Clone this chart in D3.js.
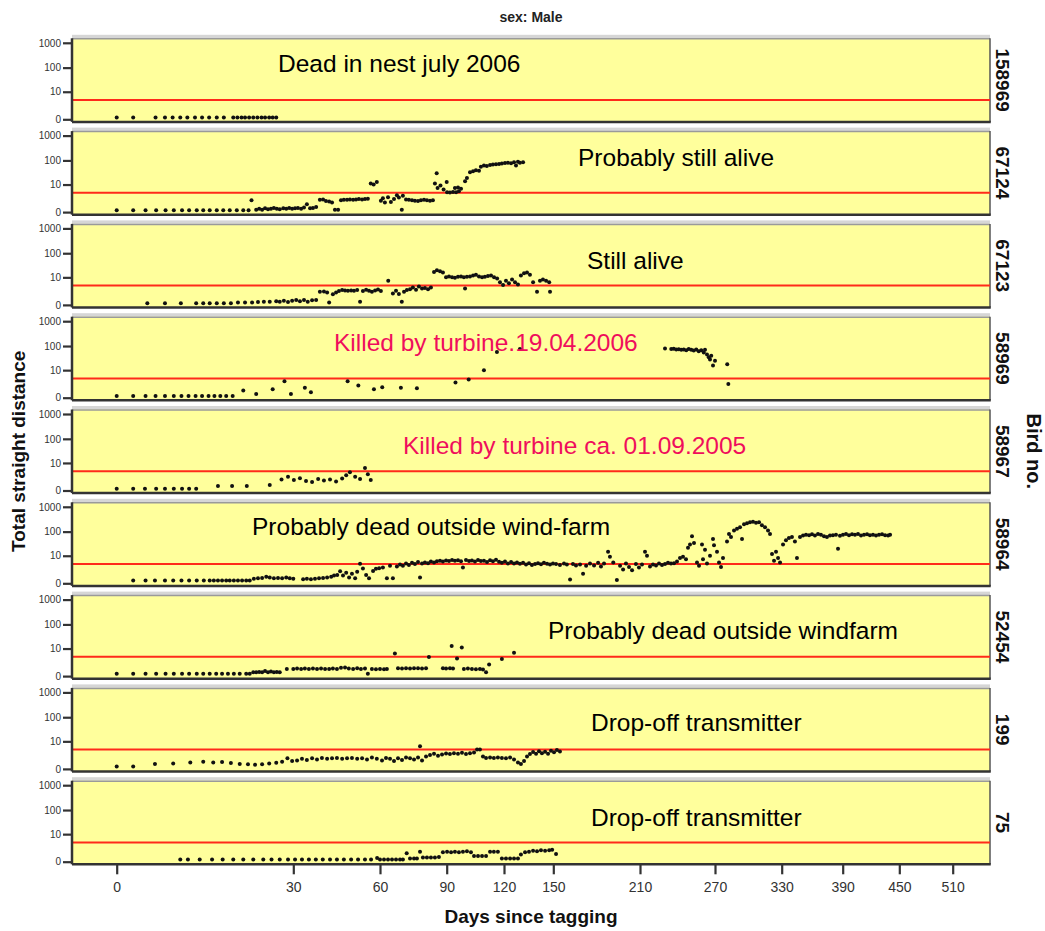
<!DOCTYPE html>
<html><head><meta charset="utf-8">
<script src="https://cdn.jsdelivr.net/npm/d3@7"></script>
<style>body{margin:0;background:#fff}svg{display:block}</style>
</head><body><svg id="c" width="1045" height="931"></svg>
<script>
// ---------------- DATA ----------------
const birds = ["158969","67124","67123","58969","58967","58964","52454","199","75"];
const notes = ["Dead in nest july 2006","Probably still alive","Still alive","Killed by turbine.19.04.2006",
  "Killed by turbine ca. 01.09.2005","Probably dead outside wind-farm","Probably dead outside windfarm",
  "Drop-off transmitter","Drop-off transmitter"];
const noteKilled = [false,false,false,true,true,false,false,false,false];
const xTicks = [0,30,60,90,120,150,210,270,330,390,450,510];
const yTicks = [0,10,100,1000];
const threshold = 4.2;

const b158969 = [[0,0.15],[2.8,0.15],[6.6,0.15],[8.2,0.15],[9.5,0.15],[10.8,0.15],[12,0.15],[13.3,0.15],[14.5,0.15],[15.7,0.15],[17,0.15],[18.2,0.15],[19.8,0.15],[20.5,0.15],[21.2,0.15],[21.8,0.15],[22.5,0.15],[23.2,0.15],[23.9,0.15],[24.6,0.15],[25.2,0.15],[25.9,0.15],[26.5,0.15],[27.1,0.15]];

const b67124 = [[0,0.15],[2.8,0.15],[4.9,0.15],[6.7,0.15],[8.3,0.15],[9.7,0.15],[11.1,0.15],[12.3,0.15],[13.6,0.15],[14.7,0.15],[15.8,0.15],[17,0.15],[18.1,0.15],[19.2,0.15],[20.4,0.15],[21.5,0.15],[22.4,0.15],
[22.9,1.7],[23.7,0.2],[24.2,0.3],[24.7,0.2],[25.2,0.35],[25.7,0.25],[26.2,0.3],[26.7,0.4],[27.2,0.3],[27.7,0.25],[28.3,0.35],[28.8,0.3],[29.3,0.4],[29.8,0.3],[30.6,0.35],[31.6,0.4],[32.7,0.3],[33.7,0.45],[34.7,0.9],[35.8,0.35],[36.8,0.4],[37.9,0.5],
[39.2,1.8],[40.3,1.9],[41.3,1.5],[42.4,1.4],[43.4,1.2],[44.4,0.2],[45.5,0.2],
[46.5,1.7],[47.5,1.8],[48.6,1.8],[49.6,1.9],[50.7,1.8],[51.7,1.9],[52.7,2.0],[53.8,1.9],[54.8,2.0],[55.8,2.1],
[56.8,11],[57.8,10],[58.9,13],
[60.4,1.6],[61.3,2.2],[62.2,1.2],[63.6,2.5],[64.9,1.3],[66.3,2.0],[67.6,3.2],[68.5,2.4],[69.8,0.2],[70.3,3],
[71.7,1.9],[73,1.8],[74.4,1.7],[75.7,1.6],[77.1,1.5],[78.4,1.7],[79.8,1.8],[81.1,1.7],[82.5,1.6],[83.8,1.7],
[84.7,11],[85.5,30],[85.9,7],[87.2,9],[88.6,6],[90,13],
[90.2,4.5],[91.7,4.4],[93.3,4.6],[94.9,4.5],[96.4,5],[94.3,7],[95.9,7.5],[97.5,6.5],
[99.6,14],[100.6,19],[102.2,33],[103.8,36],[105.3,40],[106.9,38],
[107.9,55],[109.5,62],[111,60],[112.7,65],[114.2,68],[115.8,70],[117.4,72],[118.9,75],[120.6,78],[122.4,80],[124.3,76],[126.1,84],[127.3,62],[128.5,88],[129.7,80],[131.6,85]];

const b67123 = [[5.2,0.15],[8.2,0.15],[10.9,0.15],[13.5,0.15],[14.7,0.15],[15.8,0.15],[17,0.15],[18.2,0.15],[19.4,0.15],[20.6,0.2],[21.8,0.2],[23,0.2],[24,0.25],[25,0.3],[26,0.3],[27.1,0.35],
[27.7,0.3],[28.4,0.4],[29.1,0.25],[29.8,0.4],[31,0.5],[32.3,0.35],[33.7,0.5],[35,0.3],[36.5,0.45],[37.9,0.5],
[39.2,2],[40.6,2.1],[41.7,1.8],[42.4,0.2],
[43.7,1.4],[44.8,1.8],[45.8,2.2],[46.9,2.5],[47.9,2.4],[48.9,2.3],[50,2.4],[51,2.3],[52.1,2.5],[53.1,0.3],[54.1,2.2],[55.2,2.6],[56.2,2.3],[57.2,2.0],[58.3,2.4],[59.3,2.7],[60.4,2.2],
[63.7,7],[65.8,1.6],[67.2,2.3],[68.5,1.5],[69.8,0.3],[70.8,2.0],[72.1,2.5],
[73.5,2.8],[74.8,3.4],[76.2,2.6],[77.5,3.8],[78.9,3.0],[80.2,3.2],[81.6,2.8],[82.9,3.4],
[84.3,17],[85.6,20],[87,18],[88.3,16],
[89.7,10],[91.2,11],[92.8,10],[94.3,9.5],[95.9,10.5],[97.5,11],[99.6,3],[99,10],[100.6,10.5],[102.2,11],[103.8,12],[105.3,13],[106.9,11],[108.5,10],[110,10.5],[111.6,11.5],[113.2,12],[114.8,10],[116.4,9],
[117.9,6],[119.5,4.5],[121.2,7],[123,5.5],[124.9,8],[126.7,6],[128.5,4.8],
[130.3,12],[132.2,15],[134,16],[135.8,13],
[137.7,6],[140.1,2],[141.9,7],[143.7,8],[145.6,7],[147.5,6],[148,2]];

const b58969 = [[0,0.15],[2.8,0.15],[4.9,0.15],[6.6,0.15],[8.2,0.15],[9.7,0.15],[11,0.15],[12.2,0.15],[13.4,0.15],[14.5,0.15],[15.6,0.15],[16.6,0.15],[17.6,0.15],[18.6,0.15],[19.7,0.15],
[21.5,0.8],[23.7,0.35],[26.5,1.0],[28.5,3],[29.6,0.35],[34,1.3],[36.1,0.55],[48.8,3],[52.5,1.75],[57.9,1.0],[61,1.4],[69.4,1.3],[76.6,1.2],[94.6,2.6],[101.5,3.7],[109.5,10],[116.3,57],[129.7,76],
[230,80],[235,75],[237,78],[239,72],[241,74],[243,70],[245,72],[247,68],[249,75],[251,70],[253,66],[255,72],[257,62],[259,68],[261,55],[262,70],[263.6,45],[265,35],[266,28],[267,40],[268.4,16],[270,25],[281,18],[282,2.2]];

const b58967 = [[0,0.15],[2.8,0.15],[4.8,0.15],[6.7,0.15],[8.2,0.15],[9.7,0.15],[11.1,0.15],[12.3,0.15],[13.5,0.15],[17.2,0.45],[19.6,0.45],[22.1,0.45],[26,0.55],[28,1.5],[29.1,2.2],[30.2,1.4],[32.3,1.8],[34.4,1.2],[36.5,1.0],[38.6,1.6],[40.6,1.3],[42.7,1.5],[44.8,1.1],[46.9,1.7],[48.3,2.6],[49.6,3.7],[51.4,2.2],[53.1,1.6],[54.8,6],[55.8,3.0],[56.8,1.4]];

const b58964 = [[2.8,0.25],[4.9,0.25],[6.5,0.25],[8.2,0.25],[9.6,0.25],[11,0.25],[12.3,0.25],[13.6,0.25],[14.8,0.25],[15.8,0.25],[16.5,0.25],[17.2,0.25],[17.9,0.25],[18.6,0.25],[19.2,0.25],[19.9,0.25],[20.6,0.25],[21.3,0.25],[22,0.25],[22.6,0.25],
[23.3,0.45],[24,0.5],[24.7,0.55],[25.4,0.7],[26,0.6],[26.7,0.5],[27.4,0.55],[28.1,0.5],[28.8,0.6],[29.4,0.5],[30,0.45],
[33.4,0.4],[34.7,0.45],[36.1,0.4],[37.5,0.45],[38.9,0.5],[40.3,0.55],[41.7,0.6],[43.1,0.7],[44.1,0.9],[45.2,1.0],
[46.2,1.75],[47.2,0.9],[48.3,1.4],[49.3,0.6],[50.3,1.2],[51.4,0.5],[52.1,1.6],
[53.1,4.3],[54.1,2.5],[55.2,1.0],[56.2,0.5],[57.6,1.8],[58.6,2.4],[59.7,2.6],[61.3,2.8],[63.1,0.5],[64.5,3.5],[65.8,0.5],
[67.6,3.2],[69,4],[70.3,3.5],[71.7,4.5],[73,3.8],[74.4,4.8],[75.7,4.2],[77.1,5.2],[78,0.6],[78.9,4.5],[80.2,5],[81.6,4.6],[82.9,5.5],[84.3,5],[85.6,5.7],
[87,6],[88.3,5.5],[89.7,6.2],[91.2,5.8],[92.8,6.5],[94.3,6],[95.9,6.3],[97.5,5.6],[98.5,2.8],[100.1,6.4],[101.7,5.9],[103.2,6.2],[104.8,5.5],[106.4,6.5],[107.9,5.8],[109.5,6],[111.1,5.3],[112.7,6.3],[114.2,5.6],[115.8,6.6],[117.4,5.4],[118.9,4.8],[120.6,5.5],[122.4,4.5],[124.3,5.2],[126.1,4.4],[127.9,5],[129.7,4.3],[131.6,4.8],[133.4,4.0],[135.2,4.6],[137,3.8],[138.9,4.2],[140.7,4.6],[142.5,4.1],[144.3,4.8],[146.2,4.3],[148,4.0],[149.8,4.4],
[151.9,4.2],[154.6,3.8],[157.4,4.5],[159.4,4.0],[161.6,0.35],[163.6,4.2],[165.7,3.6],[168.5,4.0],[170.6,1.2],[172.7,3.5],[175.4,4.4],[178.2,3.6],[181,4.8],[183,3.2],[185.1,4.5],[187.9,15],[189.2,9],[191.5,5],[194,0.3],[196.2,3.5],[198.3,2.2],[200.3,4.5],[202.4,3.0],[204.5,2.0],[207.2,4.2],[209.3,2.8],[211.6,4.0],[214,15],[215.6,10],[218,3.2],[220.4,4.0],[222.8,3.6],[225.2,4.5],[227.6,3.8],[230,4.2],[232.4,4.8],[234.8,4.4],[237.2,4.6],[239.6,5.5],[242,8],[244.4,9],[246.8,7],[248.4,22],[250,30],[251.6,65],[253.2,34],[255.6,5],[257.2,3.5],[259.6,30],[260.4,7],[262,18],[263.6,4.5],[266,10],[268.4,50],[269.2,28],[271.8,15],[273.6,5],[275.4,3],[277.2,8],
[280.8,40],[282.6,80],[284.4,60],[287.1,110],[289.8,130],[292.5,150],[294.3,50],[296.1,200],[298.8,220],[301.5,240],[304.2,250],[306.9,230],[309.6,240],[312.2,180],[315,150],[317.7,110],[319.5,80],[321.3,12],[323.1,6],[324.9,15],[326.7,8],[328.5,5],
[331.3,30],[334.2,45],[337.1,55],[340.1,60],[343,40],[345,8],[348,60],[351,70],[353.9,75],[356.9,72],[359.8,78],[362.7,70],[365.7,80],[368.6,75],[371.6,65],[374.5,60],[377.5,70],[380.4,72],[383.4,75],[385.4,20],[387.3,68],[390.3,75],[393.5,80],[396.7,72],[399.9,78],[403,75],[406.2,80],[409.4,70],[412.6,75],[415.8,78],[418.9,72],[422.1,75],[425.3,70],[428.5,74],[431.7,78],[434.9,72],[438.1,70],[440.2,74]];

const b52454 = [[0,0.2],[2.8,0.2],[4.9,0.2],[6.7,0.2],[8.3,0.2],[9.7,0.2],[11.1,0.2],[12.3,0.2],[13.6,0.2],[14.7,0.2],[15.8,0.2],[16.9,0.2],[17.9,0.2],[18.9,0.2],[19.9,0.2],[20.9,0.2],[22,0.2],[22.6,0.2],
[23.2,0.35],[23.7,0.35],[24.2,0.4],[24.7,0.35],[25.2,0.5],[25.7,0.35],[26.2,0.45],[26.7,0.35],[27.2,0.4],[27.7,0.35],[28.9,0.8],
[30,0.8],[31.3,0.85],[32.7,0.8],[34,0.85],[35.4,0.8],[36.8,0.85],[38.2,0.8],[39.6,0.85],[41,0.8],[42.4,0.8],[43.7,0.85],[45.1,0.8],[46.5,1.0],[47.9,1.05],[49.2,0.85],[50.7,0.8],[52.1,0.9],[53.4,0.8],[54.8,0.85],[55.8,0.2],[57.2,0.8],[58.6,0.75],[60,0.8],[61.8,0.75],[63.1,0.8],
[66.7,6],[68.1,0.9],[69.9,0.85],[71.7,0.9],[73.5,0.85],[75.3,0.9],[77.1,0.9],[78.9,0.85],[80.7,0.9],[82,4.1],
[88.3,0.9],[89.7,0.85],[91.7,0.9],[93.3,0.85],[92.6,13],[97.9,11],[95.4,3.5],
[99,0.8],[101.1,0.85],[103.2,0.8],[105.3,0.75],[107.4,0.8],[109,0.7],[110.6,0.35],[112.2,1.65],[118.9,3.3],[126.1,6.5]];

const b199 = [[0,0.2],[2.8,0.2],[6.5,0.5],[9.6,0.55],[12.5,0.7],[14.7,0.8],[16.4,0.7],[17.9,0.75],[19.4,0.6],[20.9,0.5],[22.3,0.45],[23.5,0.4],[24.7,0.45],[25.9,0.55],[27.1,0.65],[28.1,0.8],[29,1.4],[29.8,0.9],[31.3,1.0],[33,1.3],[34.7,1.1],[36.5,1.4],[38.2,1.2],[39.9,1.5],[41.7,1.3],[43.4,1.4],[45.1,1.5],[46.9,1.3],[48.6,1.4],[50.3,1.5],[52.1,1.3],[53.8,1.4],[55.5,1.2],[57.2,1.6],[58.9,1.3],[60.9,1.0],[62.7,1.5],[64.5,1.3],[66.3,0.9],[68.1,1.4],[69.9,1.1],[71.7,1.6],[73.5,1.4],[75.3,1.2],[77.1,1.6],[78,6],[78.9,1.0],[80.7,1.8],[82.5,2.2],[84.3,2.6],[86.1,2.0],[87.9,2.4],[89.7,2.7],[91.7,2.5],[93.8,2.8],[95.9,2.6],[98,2.9],[100.1,2.5],[102.2,2.8],[104.3,3.0],[105.9,4.2],[107.4,4.3],[109,1.8],[110.6,1.5],[112.7,1.6],[114.7,1.5],[116.8,1.6],[118.9,1.5],[121.2,1.4],[123.7,1.6],[126.1,1.2],[128.5,0.7],[130.3,0.5],[132.2,0.9],[134,1.8],[135.8,2.5],[137.7,3.2],[139.5,2.6],[141.3,3.5],[143.1,2.8],[145,3.3],[146.8,2.6],[148.6,3.7],[150.5,3.1],[152.5,4.0],[154.6,3.4]];

const b75 = [[10.8,0.18],[12.1,0.18],[14.1,0.18],[16.2,0.18],[18,0.18],[19.8,0.18],[21.5,0.18],[23.2,0.18],[24.9,0.18],[26.3,0.18],[27.7,0.18],[29.1,0.18],[30.6,0.18],[33,0.18],[35.4,0.18],[37.8,0.18],[40.2,0.18],[42.7,0.18],[45.1,0.18],[47.5,0.18],[50,0.18],[52.4,0.18],[54.8,0.18],[56.9,0.18],
[59,0.35],[60,0.2],[61.8,0.2],[63.6,0.2],[65.4,0.2],[67.2,0.2],[69,0.2],[70.3,0.2],[72,1.0],[73.5,0.3],[75.3,0.3],[76.6,0.3],[78,1.3],[79.3,0.4],[81.1,0.4],[82.9,0.4],[84.7,0.4],[86.5,0.45],[88.3,1.2],[90.2,1.3],[92.3,1.2],[94.3,1.3],[96.4,1.2],[98.5,1.3],[100.6,1.4],[102.7,1.2],[104.3,0.6],[106.4,0.6],[108.5,0.6],[110.6,0.6],[112.7,1.3],[114.7,1.3],[116.8,1.3],[118.9,0.3],[121.2,0.3],[123.7,0.3],[126.1,0.3],[128.5,0.3],[130.3,0.8],[132.8,1.2],[135.2,1.3],[137.7,1.5],[140.1,1.4],[142.5,1.6],[145,1.5],[147.5,1.6],[149.3,1.7],[151.9,0.9]];

const series = [b158969,b67124,b67123,b58969,b58967,b58964,b52454,b199,b75];

// ---------------- LAYOUT ----------------
const FONT = "'Liberation Sans', Arial, Helvetica, sans-serif";
const left = 72, right = 990, firstTop = 38.3, step = 92.8, panelH = 83.6;
const xRange = [116.7,293.3,380,446.7,504,553.3,640,715,781.7,842.7,899.3,952.7];
const noteX = [278,578,587,334,403,252,548,591,591];
const noteY = [33.5,35,45,34.3,44,33,43.5,43,45];

const svg = d3.select("#c");
const x = d3.scaleLinear().domain(xTicks).range(xRange);
const y = d3.scaleSymlog().constant(0.85).domain([0,1000]).range([81,4.5]);

// titles
svg.append("text").attr("x",(left+right)/2).attr("y",22).attr("text-anchor","middle")
  .attr("font-family",FONT).attr("font-weight","bold").attr("font-size",14).attr("fill","#222").text("sex: Male");
svg.append("text").attr("transform",`translate(25,${(firstTop+8*step+panelH+firstTop)/2}) rotate(-90)`)
  .attr("text-anchor","middle").attr("font-family",FONT).attr("font-weight","bold").attr("font-size",19).attr("fill","#111")
  .text("Total straight distance");
svg.append("text").attr("x",(left+right)/2).attr("y",923).attr("text-anchor","middle")
  .attr("font-family",FONT).attr("font-weight","bold").attr("font-size",19).attr("fill","#111").text("Days since tagging");
svg.append("text").attr("transform",`translate(1027,${(firstTop+8*step+panelH+firstTop)/2}) rotate(90)`)
  .attr("text-anchor","middle").attr("font-family",FONT).attr("font-weight","bold").attr("font-size",20).attr("fill","#111")
  .text("Bird no.");

birds.forEach((b,i)=>{
  const top = firstTop + i*step;
  const g = svg.append("g").attr("transform",`translate(0,${top})`);
  g.append("rect").attr("x",left).attr("y",-3.5).attr("width",right-left).attr("height",3.5).attr("fill","#d6d6d6");
  g.append("rect").attr("x",left).attr("y",0).attr("width",right-left).attr("height",panelH).attr("fill","#ffff9c");
  g.append("line").attr("x1",left).attr("x2",right).attr("y1",0.5).attr("y2",0.5).attr("stroke","#9a9a9a").attr("stroke-width",1.5);
  g.append("line").attr("x1",right).attr("x2",right).attr("y1",0).attr("y2",panelH).attr("stroke","#555").attr("stroke-width",1.5);
  // threshold line
  g.append("line").attr("x1",left).attr("x2",right).attr("y1",y(threshold)).attr("y2",y(threshold))
    .attr("stroke","#ff2a1a").attr("stroke-width",2);
  // y axis
  const ax = g.append("g").attr("transform",`translate(${left},0)`)
    .call(d3.axisLeft(y).tickValues(yTicks).tickFormat(d3.format("d")).tickSize(9).tickPadding(2));
  ax.select(".domain").remove();
  ax.selectAll(".tick line").attr("stroke","#333").attr("stroke-width",2.2);
  ax.selectAll(".tick text").attr("font-family",FONT).attr("font-size",10).attr("fill","#333");
  // borders
  g.append("line").attr("x1",left).attr("x2",left).attr("y1",0).attr("y2",panelH).attr("stroke","#333").attr("stroke-width",2.5);
  g.append("line").attr("x1",left).attr("x2",right+0.75).attr("y1",panelH).attr("y2",panelH).attr("stroke","#333").attr("stroke-width",2.5);
  // points
  g.selectAll("circle.pt").data(series[i]).join("circle").attr("class","pt")
    .attr("cx",d=>x(d[0])).attr("cy",d=>y(d[1])).attr("r",2).attr("fill","#111");
  // note
  g.append("text").attr("x",noteX[i]).attr("y",noteY[i]).attr("font-family",FONT).attr("font-size",24.5)
    .attr("fill",noteKilled[i]?"#ef0e5c":"#000").text(notes[i]);
  // bird label
  g.append("text").attr("transform",`translate(1002,${panelH/2}) rotate(90)`).attr("text-anchor","middle")
    .attr("dominant-baseline","central").attr("font-family",FONT).attr("font-weight","bold").attr("font-size",19)
    .attr("fill","#111").text(b);
});

// x axis
const bottom = firstTop + 8*step + panelH;
const xa = svg.append("g").attr("transform",`translate(0,${bottom})`)
  .call(d3.axisBottom(x).tickValues(xTicks).tickFormat(d3.format("d")).tickSize(10).tickPadding(8));
xa.select(".domain").remove();
xa.selectAll(".tick line").attr("stroke","#333").attr("stroke-width",2.2);
xa.selectAll(".tick text").attr("font-family",FONT).attr("font-size",14).attr("fill","#333");
</script>
</body></html>
